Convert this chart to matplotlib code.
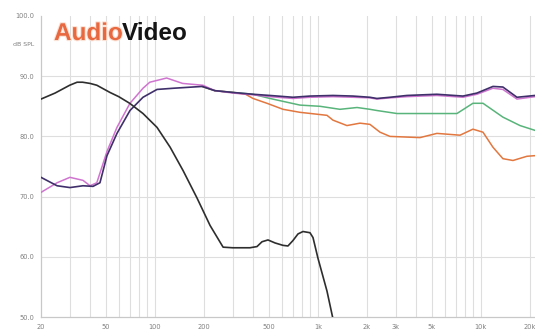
import matplotlib
matplotlib.use("Agg")
import matplotlib.pyplot as plt
import matplotlib.patheffects as pe

# Frequency responses (Hz, dB SPL)
woofer_f = [20, 24.4, 30, 33.3, 36, 40, 44, 53, 60, 70, 84.5, 103, 124, 149, 181,
            218, 262, 300, 383, 423, 454, 494, 546, 611, 655, 703, 755, 810, 894,
            933, 1000, 1137, 1237, 1300]
woofer_db = [86.2, 87.2, 88.5, 89.0, 89.0, 88.8, 88.5, 87.3, 86.6, 85.5, 83.8, 81.5,
             78.2, 74.3, 69.8, 65.2, 61.6, 61.5, 61.5, 61.7, 62.5, 62.8, 62.3, 61.9,
             61.8, 62.7, 63.8, 64.2, 64.0, 63.2, 59.8, 54.3, 49.7, 47.0]

axis_f = [20, 25.1, 30.1, 36.2, 41.7, 46, 50.8, 58.5, 70.3, 84.5, 103, 130, 195,
          233, 301, 400, 508, 703, 894, 1237, 1641, 2085, 2302, 2767, 3516, 5373,
          7762, 9461, 11860, 13650, 16650, 21480]
axis_db = [73.2, 71.8, 71.5, 71.8, 71.7, 72.3, 76.8, 80.5, 84.3, 86.5, 87.8, 88.0,
           88.3, 87.6, 87.3, 87.0, 86.8, 86.5, 86.7, 86.8, 86.7, 86.5, 86.3, 86.5,
           86.8, 87.0, 86.7, 87.2, 88.3, 88.2, 86.5, 86.8]

ref_f = [20, 25.1, 30.1, 36.2, 40, 44, 50.8, 58.5, 70.3, 84.5, 93, 118, 148, 197,
         233, 301, 400, 508, 703, 894, 1237, 1641, 2085, 2302, 2767, 3516, 5373,
         7762, 9461, 11860, 13650, 16650, 21480]
ref_db = [70.7, 72.3, 73.2, 72.7, 71.8, 72.3, 77.5, 81.5, 85.5, 88.0, 89.0, 89.7,
          88.8, 88.5, 87.6, 87.2, 86.9, 86.6, 86.3, 86.5, 86.6, 86.5, 86.4, 86.2,
          86.4, 86.6, 86.8, 86.5, 87.0, 88.0, 87.8, 86.2, 86.6]

off30_f = [195, 233, 301, 400, 508, 776, 1030, 1365, 1738, 2085, 2302, 3055, 5373,
           7130, 8933, 10300, 13650, 17380, 21480]
off30_db = [88.3, 87.6, 87.3, 87.0, 86.3, 85.2, 85.0, 84.5, 84.8, 84.5, 84.3, 83.8,
            83.8, 83.8, 85.5, 85.5, 83.2, 81.8, 81.0]

off60_f = [195, 233, 301, 360, 400, 487, 611, 776, 1137, 1237, 1507, 1812, 2085,
           2404, 2767, 4228, 5373, 7445, 8933, 10300, 11860, 13650, 15740, 19180,
           21480]
off60_db = [88.3, 87.6, 87.3, 87.0, 86.3, 85.5, 84.5, 84.0, 83.5, 82.7, 81.8, 82.2,
            82.0, 80.7, 80.0, 79.8, 80.5, 80.2, 81.2, 80.7, 78.2, 76.3, 76.0, 76.7,
            76.8]

x_ticks = [20, 50, 100, 200, 500, 1000, 2000, 3000, 5000, 10000, 20000]
x_labels = ["20", "50", "100", "200", "500", "1k", "2k", "3k", "5k", "10k", "20k"]
y_ticks = [50, 60, 70, 80, 90, 100]
y_labels = ["50.0", "60.0", "70.0", "80.0", "90.0", "100.0"]

W, H = 535, 336
fig = plt.figure(figsize=(W / 100, H / 100), dpi=100)
ax = fig.add_axes([41 / W, (H - 317) / H, (W - 41) / W, (317 - 16) / H])

grid_c = "#dedede"
for f in [30, 40, 50, 60, 70, 80, 90, 100, 200, 300, 400, 500, 600, 700, 800, 900,
          1000, 2000, 3000, 4000, 5000, 6000, 7000, 8000, 9000, 10000, 20000]:
    ax.axvline(f, color=grid_c, lw=0.8, zorder=0)
for v in [60, 70, 80, 90]:
    ax.axhline(v, color=grid_c, lw=0.8, zorder=0)

ax.semilogx(woofer_f, woofer_db, color="#2e2e2e", lw=1.2, zorder=5)
ax.semilogx(off60_f, off60_db, color="#e2773f", lw=1.1, zorder=3)
ax.semilogx(off30_f, off30_db, color="#58b47a", lw=1.1, zorder=3)
ax.semilogx(ref_f, ref_db, color="#cf74cf", lw=1.1, zorder=4)
ax.semilogx(axis_f, axis_db, color="#3f2f6a", lw=1.2, zorder=4)

ax.set_xlim(20, 21480)
ax.set_ylim(50, 100)
ax.set_xticks(x_ticks)
ax.set_xticklabels(x_labels)
ax.xaxis.set_minor_locator(matplotlib.ticker.NullLocator())
ax.set_yticks(y_ticks)
ax.set_yticklabels(y_labels)
ax.tick_params(length=0, labelsize=4.8, labelcolor="#808080", pad=5)
for s in ["top", "right"]:
    ax.spines[s].set_visible(False)
for s in ["left", "bottom"]:
    ax.spines[s].set_color("#c8c8c8")
    ax.spines[s].set_linewidth(0.9)

fig.text(34 / W, 1 - 45 / H, "dB SPL", ha="right", va="center",
         fontsize=4.5, color="#808080")

# Logo
t1 = fig.text(54 / W, 1 - 40 / H, "Audio", fontsize=17.5, fontweight="bold",
              family="Liberation Sans", color="#e8683f", va="baseline",
              path_effects=[pe.withStroke(linewidth=1.6, foreground="#fbe2d6")])
fig.canvas.draw()
bb = t1.get_window_extent(fig.canvas.get_renderer())
fig.text(bb.x1 / W - 1.5 / W, 1 - 40 / H, "Video", fontsize=17.5, fontweight="bold",
         family="Liberation Sans", color="#151515", va="baseline")

fig.savefig("out.png", dpi=100)
